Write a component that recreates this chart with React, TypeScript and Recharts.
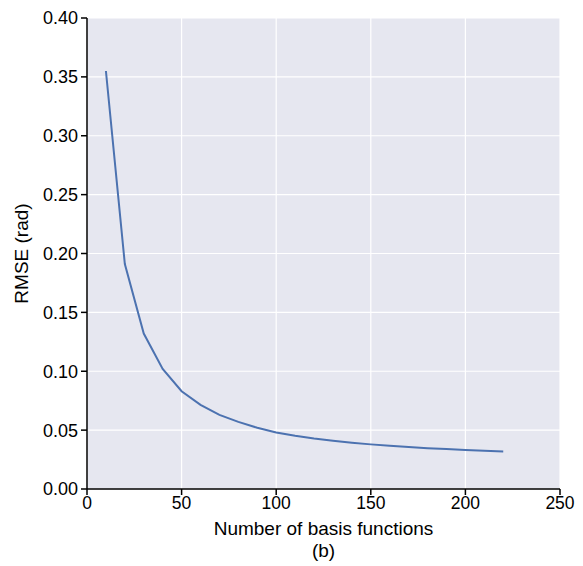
import React from 'react';
import {
  LineChart,
  Line,
  XAxis,
  YAxis,
  CartesianGrid,
} from 'recharts';

// number of basis functions
const basisCounts = [10, 20, 30, 40, 50, 60, 70, 80, 90, 100, 110, 120, 130, 140, 150, 160, 170, 180, 190, 200, 210, 220];
// RMSE in rad
const rmseValues = [0.355, 0.191, 0.132, 0.102, 0.083, 0.0715, 0.063, 0.057, 0.052, 0.048, 0.0452, 0.0429, 0.041, 0.0393, 0.0379, 0.0367, 0.0356, 0.0347, 0.0339, 0.0331, 0.0324, 0.0318];

const xTicks = [0, 50, 100, 150, 200, 250];
const yTicks = [0, 0.05, 0.1, 0.15, 0.2, 0.25, 0.3, 0.35, 0.4];

const data = basisCounts.map((n, i) => ({ n, rmse: rmseValues[i] }));

const FONT = '"Liberation Sans", Arial, sans-serif';

const XLabel = (props: any) => {
  const { x, y, width } = props.viewBox;
  const cx = x + width / 2;
  return (
    <g>
      <text x={cx} y={y + 46} textAnchor="middle" fontSize={19} fill="#000" fontFamily={FONT}>
        Number of basis functions
      </text>
      <text x={cx} y={y + 68} textAnchor="middle" fontSize={19} fill="#000" fontFamily={FONT}>
        (b)
      </text>
    </g>
  );
};

const YLabel = (props: any) => {
  const { y, height } = props.viewBox;
  const cy = y + height / 2;
  return (
    <text
      x={28}
      y={cy}
      transform={`rotate(-90, 28, ${cy})`}
      textAnchor="middle"
      fontSize={19}
      fill="#000"
      fontFamily={FONT}
    >
      RMSE (rad)
    </text>
  );
};

const App: React.FC = () => {
  return (
    <div style={{ position: 'fixed', left: 0, top: 0, width: 583, height: 566, background: '#fff' }}>
      <LineChart width={583} height={566} data={data} margin={{ top: 18, right: 23, left: 0, bottom: 0 }}>
        <CartesianGrid fill="#e6e7f0" stroke="#ffffff" strokeWidth={1.2} horizontalValues={yTicks} verticalValues={xTicks} />
        <XAxis
          type="number"
          dataKey="n"
          domain={[0, 250]}
          ticks={xTicks}
          height={77}
          stroke="#000"
          strokeWidth={1.5}
          tickSize={6}
          tick={{ fill: '#000', fontSize: 17.5, fontFamily: FONT }}
          tickMargin={2}
          label={<XLabel />}
        />
        <YAxis
          type="number"
          domain={[0, 0.4]}
          ticks={yTicks}
          width={87}
          stroke="#000"
          strokeWidth={1.5}
          tickSize={6}
          tick={{ fill: '#000', fontSize: 18, fontFamily: FONT }}
          tickMargin={3}
          tickFormatter={(v: number) => v.toFixed(2)}
          label={<YLabel />}
        />
        <Line
          type="linear"
          dataKey="rmse"
          stroke="#4c72b0"
          strokeWidth={2}
          dot={false}
          isAnimationActive={false}
        />
      </LineChart>
    </div>
  );
};

export default App;
